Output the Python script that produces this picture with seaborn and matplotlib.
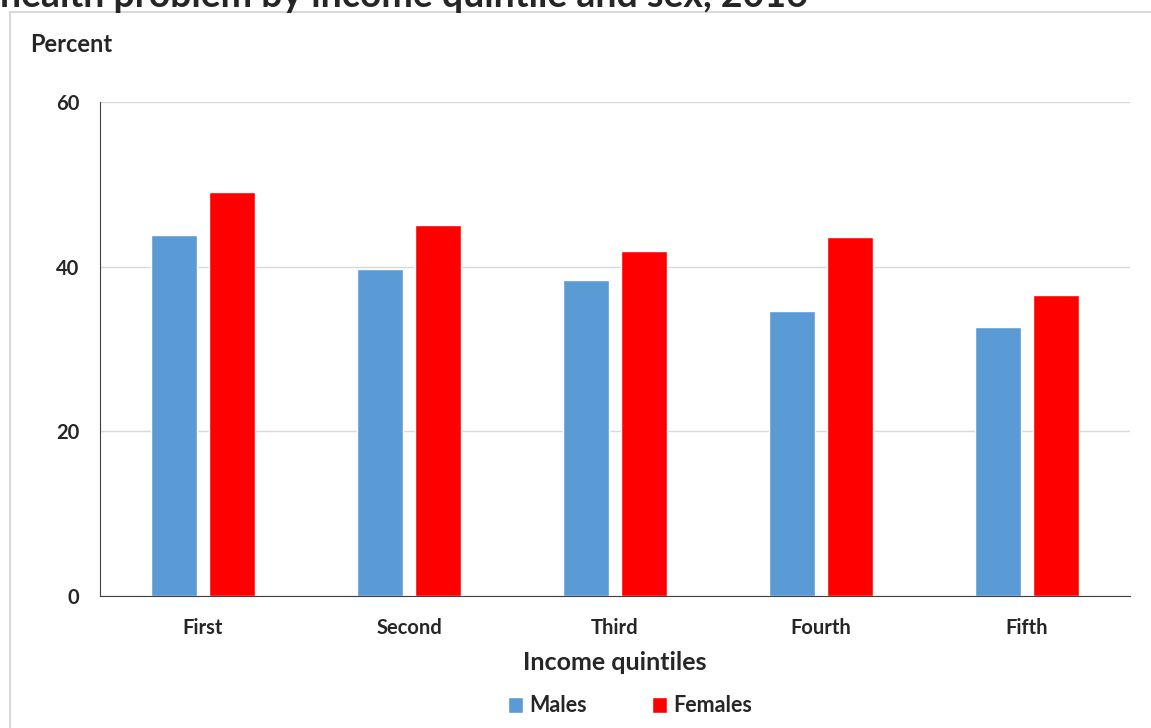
import seaborn as sns
import pandas as pd
import matplotlib.pyplot as plt
from matplotlib.patches import Rectangle

quintiles = ["First", "Second", "Third", "Fourth", "Fifth"]
males = [43.9, 39.7, 38.4, 34.6, 32.7]
females = [49.1, 45.1, 41.9, 43.6, 36.6]
sexes = ["Males", "Females"]
colors = {"Males": "#5b9bd5", "Females": "#ff0000"}

df = pd.DataFrame({
    "quintile": quintiles * 2,
    "sex": ["Males"] * 5 + ["Females"] * 5,
    "percent": males + females,
})

sns.set_style("white")
plt.rcParams["font.family"] = ["Lato", "DejaVu Sans"]

W, H = 1151, 728
fig = plt.figure(figsize=(W / 100, H / 100), dpi=100)

# outer chart frame
fig.patches.append(Rectangle((10 / W, -0.05), 1.1, 1 - 12 / H + 0.05, transform=fig.transFigure,
                             fill=False, edgecolor="#d9d9d9", linewidth=1.5))

# title line, cut off at the top as in the source image
fig.text(0.0, 1 - 7 / H, "health problem by income quintile and sex, 2016",
         fontsize=27, fontweight="bold", va="baseline", ha="left")

ax = fig.add_axes([100 / W, (H - 596) / H, 1030 / W, 494 / H])
sns.barplot(data=df, x="quintile", y="percent", hue="sex", order=quintiles, hue_order=sexes,
            palette=colors, saturation=1, width=0.565, gap=0.21, ax=ax, legend=True)

ax.set_ylim(0, 60)
ax.set_yticks([0, 20, 40, 60])
ax.yaxis.grid(True, color="#d9d9d9", linewidth=1)
ax.set_axisbelow(True)
for s in ["top", "right"]:
    ax.spines[s].set_visible(False)
ax.spines["left"].set_color("#404040")
ax.spines["bottom"].set_color("#404040")
ax.tick_params(axis="x", length=0, labelsize=14.5, pad=16)
ax.tick_params(axis="y", length=0, labelsize=14.5, pad=15)
for lab in ax.get_xticklabels() + ax.get_yticklabels():
    lab.set_fontweight("bold")
ax.set_ylabel("")
ax.set_xlabel("Income quintiles", fontsize=18, fontweight="bold", labelpad=9)

fig.text(30 / W, 1 - 45 / H, "Percent", fontsize=17, fontweight="bold", va="center", ha="left")

handles, labels = ax.get_legend_handles_labels()
ax.legend_.remove()
fig.legend(handles, labels, loc="center", bbox_to_anchor=(630 / W, 1 - 706 / H), ncol=2,
           frameon=False, prop={"size": 15.5, "weight": "bold"}, handlelength=0.7, handleheight=0.7,
           columnspacing=3, handletextpad=0.3)

fig.savefig("out.png", dpi=100)
